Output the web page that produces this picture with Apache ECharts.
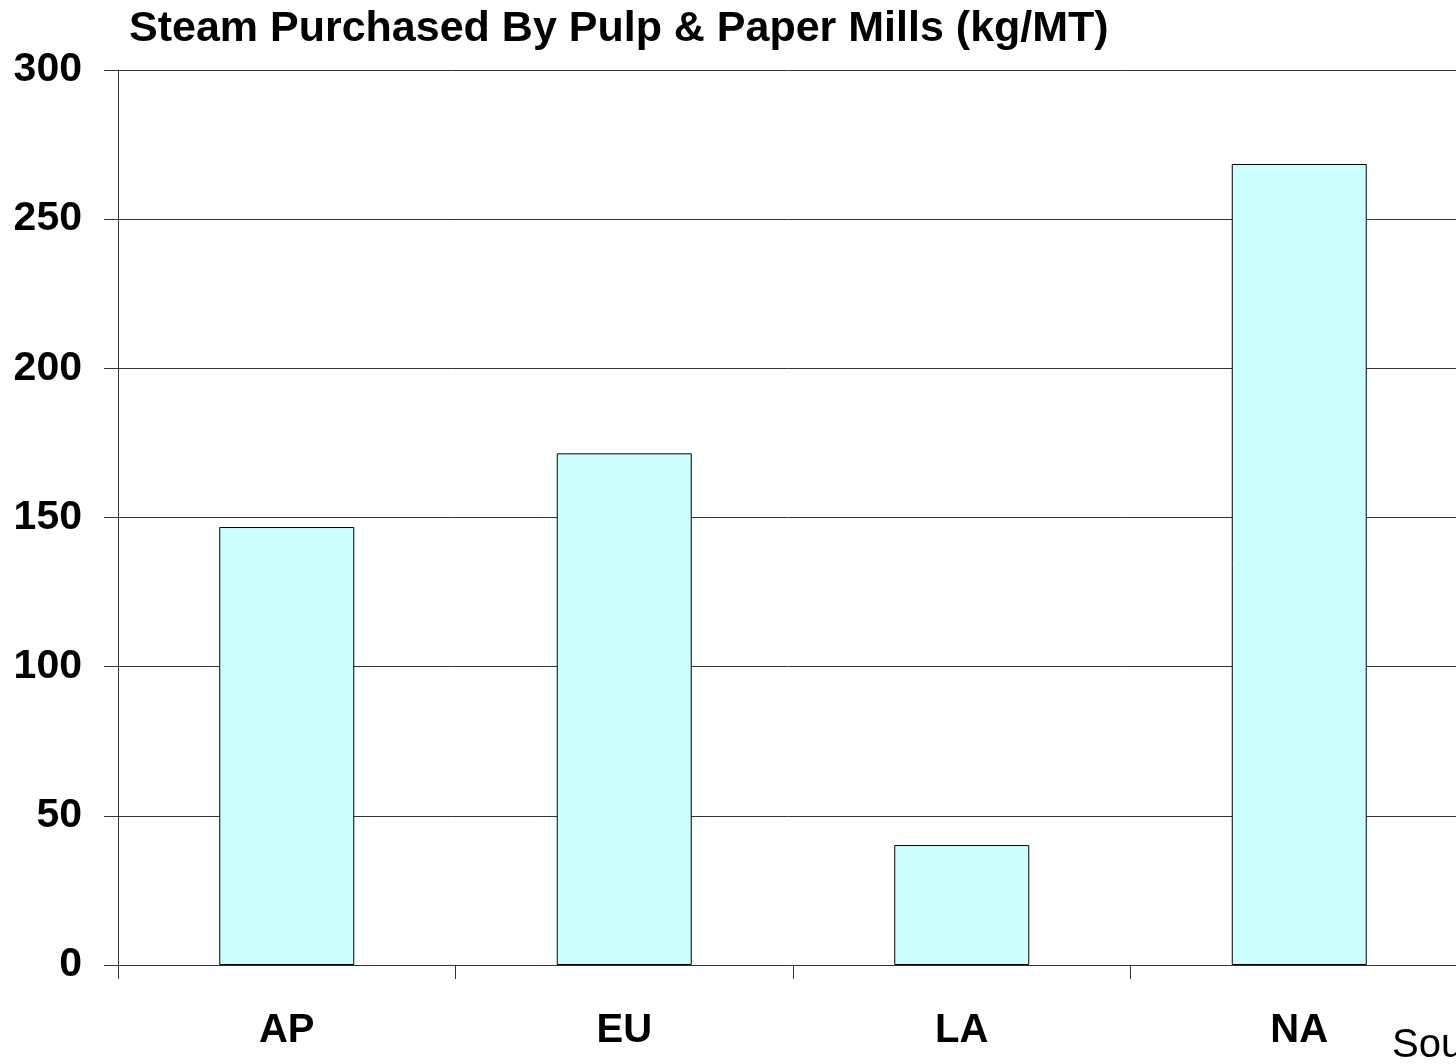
<!DOCTYPE html>
<html>
<head>
<meta charset="utf-8">
<title>Steam Purchased By Pulp &amp; Paper Mills</title>
<script src="https://cdn.jsdelivr.net/npm/echarts@6/dist/echarts.min.js"></script>
<style>
  html, body { margin: 0; padding: 0; background: #ffffff; }
  #chart { width: 1456px; height: 1064px; }
</style>
</head>
<body>
<div id="chart"></div>
<script>
// Regions and steam purchased per metric ton (kg/MT)
const regions = ['AP', 'EU', 'LA', 'NA'];
const steamKgPerMT = [146.8, 171.5, 40.2, 268.5];
const yTicks = [0, 50, 100, 150, 200, 250, 300];

const FONT = '"Liberation Sans", Arial, Helvetica, sans-serif';

const chart = echarts.init(document.getElementById('chart'), null, { renderer: 'canvas' });

chart.setOption({
  backgroundColor: '#ffffff',
  animation: false,
  title: {
    text: 'Steam Purchased By Pulp & Paper Mills (kg/MT)',
    left: 124,
    top: 3,
    textStyle: { fontFamily: FONT, fontSize: 43, fontWeight: 'bold', color: '#000000' }
  },
  graphic: [{
    type: 'text',
    left: 1392,
    top: 1026,
    style: { text: 'Source:', font: '40px ' + FONT, fill: '#000000' }
  }],
  // the plot runs a little past the right edge of the page
  grid: {
    left: 118, width: 1350, top: 70, bottom: 99,
    containLabel: false, outerBoundsMode: 'none'
  },
  xAxis: {
    type: 'category',
    data: regions,
    boundaryGap: true,
    axisLine: { show: true, lineStyle: { color: '#333333', width: 1 } },
    axisTick: { show: true, length: 14, lineStyle: { color: '#333333', width: 1 } },
    axisLabel: {
      margin: 46,
      fontFamily: FONT, fontSize: 40, fontWeight: 'bold', color: '#000000'
    },
    splitLine: { show: false }
  },
  yAxis: {
    type: 'value',
    min: yTicks[0],
    max: yTicks[yTicks.length - 1],
    interval: yTicks[1] - yTicks[0],
    axisLine: { show: true, lineStyle: { color: '#333333', width: 1 } },
    axisTick: { show: true, length: 14, lineStyle: { color: '#333333', width: 1 } },
    axisLabel: {
      margin: 36,
      fontFamily: FONT, fontSize: 41, fontWeight: 'bold', color: '#000000'
    },
    splitLine: { show: true, lineStyle: { color: '#333333', width: 1 } }
  },
  series: [{
    type: 'bar',
    data: steamKgPerMT,
    barWidth: '40%',
    itemStyle: { color: '#CCFFFF', borderColor: '#000000', borderWidth: 1 }
  }]
});
</script>
</body>
</html>
